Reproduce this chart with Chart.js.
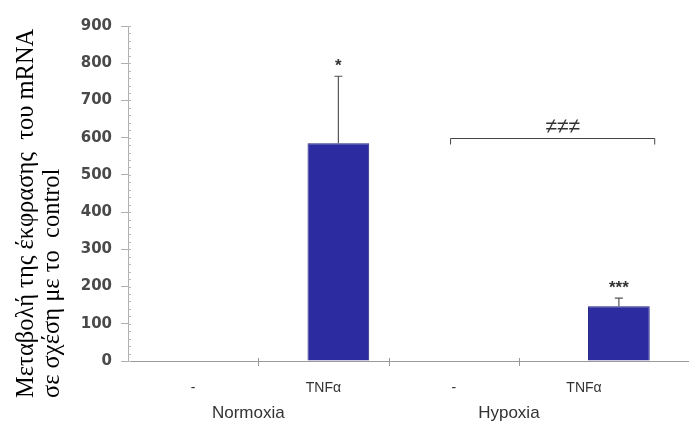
<!DOCTYPE html>
<html>
<head>
<meta charset="utf-8">
<script src="https://cdn.jsdelivr.net/npm/chart.js@4/dist/chart.umd.min.js"></script>
<style>
  html, body { margin: 0; padding: 0; background: #ffffff; }
  #wrap { width: 689px; height: 421px; }
</style>
</head>
<body>
<div id="wrap"><canvas id="c" width="689" height="421"></canvas></div>
<script>
// ---- data ----
const categories = ['-', 'TNFα', '-', 'TNFα'];
const groups = ['Normoxia', 'Hypoxia'];
const values = [0, 585, 0, 147];
const errors = [0, 180, 0, 22];
const stars = ['', '*', '', '***'];
const yTickValues = [0, 100, 200, 300, 400, 500, 600, 700, 800, 900];
const bracketLabel = '≠≠≠';
const bracketValue = 600;
const yTitleLines = ['Μεταβολή της έκφρασης  του mRNA', 'σε σχέση με το  control'];

const extras = {
  id: 'extras',
  afterDraw(chart) {
    const ctx = chart.ctx;
    const ca = chart.chartArea;
    const y = chart.scales.y;
    const x = chart.scales.x;
    const meta = chart.getDatasetMeta(0);
    ctx.save();

    // minor ticks on y axis
    ctx.strokeStyle = '#b8b8b8';
    ctx.lineWidth = 1;
    for (let v = 0; v <= 900; v += 20) {
      const py = Math.round(y.getPixelForValue(v)) + 0.5;
      ctx.beginPath();
      ctx.moveTo(ca.left, py);
      ctx.lineTo(ca.left + 3, py);
      ctx.stroke();
    }

    // category labels, tick marks and group labels
    const slot = (ca.right - ca.left) * 0.929 / categories.length;
    ctx.strokeStyle = '#999';
    for (let k = 1; k < categories.length; k++) {
      const px = Math.round(ca.left + k * slot) + 0.5;
      ctx.beginPath();
      ctx.moveTo(px, ca.bottom - 3);
      ctx.lineTo(px, ca.bottom + 5);
      ctx.stroke();
    }
    ctx.fillStyle = '#333';
    ctx.font = '14px "Liberation Sans", Arial, sans-serif';
    ctx.textAlign = 'center';
    ctx.textBaseline = 'middle';
    const labelX = [];
    categories.forEach((c, i) => {
      const px = ca.left + (i + 0.5) * slot;
      labelX.push(px);
      ctx.fillText(c, px, ca.bottom + 27);
    });
    ctx.font = '17px "Liberation Sans", Arial, sans-serif';
    groups.forEach((g, gi) => {
      const px = (labelX[2 * gi] + labelX[2 * gi + 1]) / 2 - 10;
      ctx.fillText(g, px, ca.bottom + 52);
    });

    // error bars and stars
    ctx.strokeStyle = '#555';
    ctx.lineWidth = 1.2;
    ctx.fillStyle = '#333';
    ctx.font = 'bold 17px "Liberation Sans", Arial, sans-serif';
    ctx.textBaseline = 'alphabetic';
    values.forEach((v, i) => {
      const bar = meta.data[i];
      if (!bar) return;
      const bx = bar.x;
      if (errors[i] > 0) {
        const y0 = y.getPixelForValue(v);
        const y1 = y.getPixelForValue(v + errors[i]);
        ctx.beginPath();
        ctx.moveTo(bx, y0);
        ctx.lineTo(bx, y1);
        ctx.moveTo(bx - 4, y1);
        ctx.lineTo(bx + 4, y1);
        ctx.stroke();
      }
      if (stars[i]) {
        const yt = y.getPixelForValue(v + errors[i]);
        ctx.fillText(stars[i], bx, yt - 5);
      }
    });

    // bracket
    const bw = meta.data[3].width;
    const x1 = x.getPixelForValue(2) - 0.2 * (x.getPixelForValue(1) - x.getPixelForValue(0));
    const x2 = x.getPixelForValue(3) + bw / 2 + 5;
    const by = Math.round(y.getPixelForValue(bracketValue)) + 0.5;
    ctx.strokeStyle = '#444';
    ctx.lineWidth = 1;
    ctx.beginPath();
    ctx.moveTo(x1, by + 6);
    ctx.lineTo(x1, by);
    ctx.lineTo(x2, by);
    ctx.lineTo(x2, by + 6);
    ctx.stroke();
    ctx.fillStyle = '#333';
    ctx.font = '21px "Liberation Sans", Arial, sans-serif';
    ctx.textAlign = 'center';
    ctx.textBaseline = 'alphabetic';
    ctx.fillText(bracketLabel, x2 - 0.45 * (x2 - x1), by - 6);

    // y title (rotated, two lines)
    ctx.fillStyle = '#000';
    ctx.font = '24.5px "Liberation Serif", "Times New Roman", serif';
    ctx.textAlign = 'left';
    ctx.textBaseline = 'alphabetic';
    yTitleLines.forEach((line, i) => {
      ctx.save();
      ctx.translate(33 + i * 26, 398);
      ctx.rotate(-Math.PI / 2);
      ctx.fillText(line, 0, 0);
      ctx.restore();
    });

    ctx.restore();
  }
};

new Chart(document.getElementById('c'), {
  type: 'bar',
  data: {
    labels: categories,
    datasets: [{
      data: values,
      backgroundColor: '#2c2ca0',
      borderColor: '#22227e',
      borderWidth: 1,
      categoryPercentage: 1,
      barPercentage: 0.44
    }]
  },
  options: {
    responsive: false,
    animation: false,
    devicePixelRatio: 1,
    layout: { padding: { top: 26, right: 0, left: 0, bottom: 0 } },
    plugins: { legend: { display: false }, tooltip: { enabled: false } },
    scales: {
      x: {
        grid: { display: false },
        ticks: { display: false },
        border: { color: '#9a9a9a', width: 1 },
        afterFit(s) { s.height = 60; }
      },
      y: {
        min: 0,
        max: 900,
        afterBuildTicks(s) { s.ticks = yTickValues.map(v => ({ value: v })); },
        grid: { drawOnChartArea: false, drawTicks: true, tickLength: 7, color: '#b0b0b0' },
        border: { color: '#b0b0b0', width: 1 },
        ticks: {
          color: '#4a4a4a',
          padding: 9,
          font: { family: '"DejaVu Sans", Arial, sans-serif', size: 15, weight: 'bold' }
        },
        afterFit(s) { s.width = 128; }
      }
    }
  },
  plugins: [extras]
});
</script>
</body>
</html>
